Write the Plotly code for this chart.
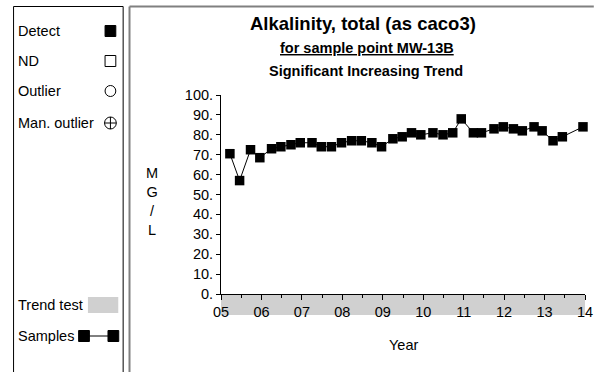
import plotly.graph_objects as go

# Sample dates (decimal years) and alkalinity results in MG/L
sample_year = [2005.22, 2005.46, 2005.73, 2005.96, 2006.25, 2006.48, 2006.73, 2006.96,
               2007.25, 2007.48, 2007.73, 2007.98, 2008.23, 2008.47, 2008.73, 2008.97,
               2009.25, 2009.48, 2009.71, 2009.94, 2010.24, 2010.49, 2010.73, 2010.94,
               2011.24, 2011.44, 2011.75, 2011.98, 2012.23, 2012.45, 2012.74, 2012.94,
               2013.21, 2013.44, 2013.95]
alkalinity = [70.5, 57, 72.5, 68.5, 73, 74, 75, 76,
              76, 74, 74, 76, 77, 77, 76, 74,
              78, 79, 81, 80, 81, 80, 81, 88,
              81, 81, 83, 84, 83, 82, 84, 82,
              77, 79, 84]

year_ticks = list(range(2005, 2015))
year_labels = ["05", "06", "07", "08", "09", "10", "11", "12", "13", "14"]
y_ticks = list(range(0, 101, 10))
y_labels = [f"{v}." for v in y_ticks]

trend_window = [2005, 2014]

W, H = 602, 372
ML, MR, MT, MB = 221, 9, 95, 78
PW, PH = W - ML - MR, H - MT - MB
FONT = "Arial, Liberation Sans, sans-serif"
BODY = 14.5


def px(x):
    return (x - ML) / PW


def py(y):
    return (H - MB - y) / PH


fig = go.Figure()

fig.add_trace(go.Scatter(
    x=sample_year, y=alkalinity, mode="lines+markers",
    line=dict(color="black", width=1),
    marker=dict(symbol="square", size=9.5, color="black"),
    showlegend=False, cliponaxis=False,
))

shapes = []
# trend test band under the time axis
shapes.append(dict(type="rect", xref="x", yref="paper",
                   x0=trend_window[0], x1=trend_window[1], y0=py(315), y1=0,
                   fillcolor="#d0d0d0", line=dict(width=0), layer="below"))

# left key panel frame
for (x0, y0, x1, y1) in [(9, 6.5, 121, 6.5), (9, 6.5, 9, 372), (121, 6.5, 121, 372)]:
    shapes.append(dict(type="line", xref="paper", yref="paper",
                       x0=px(x0), y0=py(y0), x1=px(x1), y1=py(y1),
                       line=dict(color="black", width=1)))
# chart panel frame
for (x0, y0, x1, y1) in [(127.5, 6.5, 602, 6.5), (127.5, 6.5, 127.5, 372)]:
    shapes.append(dict(type="line", xref="paper", yref="paper",
                       x0=px(x0), y0=py(y0), x1=px(x1), y1=py(y1),
                       line=dict(color="#808080", width=2)))


def box(cx, cy, half, fill, kind="rect"):
    return dict(type=kind, xref="paper", yref="paper",
                x0=px(cx - half), x1=px(cx + half), y0=py(cy + half), y1=py(cy - half),
                fillcolor=fill, line=dict(color="black", width=1))


# key symbols
shapes.append(box(108, 31, 5.5, "black"))
shapes.append(box(108, 61, 5.5, "white"))
shapes.append(box(108, 91, 5.5, "white", "circle"))
shapes.append(box(108, 123, 6, "white", "circle"))
shapes.append(dict(type="line", xref="paper", yref="paper", x0=px(102), x1=px(114),
                   y0=py(123), y1=py(123), line=dict(color="black", width=1)))
shapes.append(dict(type="line", xref="paper", yref="paper", x0=px(108), x1=px(108),
                   y0=py(117), y1=py(129), line=dict(color="black", width=1)))
shapes.append(dict(type="rect", xref="paper", yref="paper",
                   x0=px(85), x1=px(116), y0=py(313), y1=py(297),
                   fillcolor="#d0d0d0", line=dict(width=0)))
shapes.append(dict(type="line", xref="paper", yref="paper", x0=px(81), x1=px(111),
                   y0=py(336), y1=py(336), line=dict(color="black", width=1)))
shapes.append(box(81, 336, 5.5, "black"))
shapes.append(box(111, 336, 5.5, "black"))

annotations = []


def text(x, y, s, size=BODY, anchor="left"):
    annotations.append(dict(xref="paper", yref="paper", x=px(x), y=py(y), text=s,
                            showarrow=False, xanchor=anchor, yanchor="middle",
                            font=dict(family=FONT, size=size, color="black")))


text(12, 31, "Detect")
text(12, 61, "ND")
text(12, 91, "Outlier")
text(12, 123, "Man. outlier")
text(12, 305, "Trend test")
text(12, 336, "Samples")

text(366, 24, "<b>Alkalinity, total (as caco3)</b>", size=18.5, anchor="center")
text(370, 48, "<b><u>for sample point MW-13B</u></b>", size=14.5, anchor="center")
text(369, 71, "<b>Significant Increasing Trend</b>", size=14.5, anchor="center")
text(407, 345, "Year", anchor="center")
text(150, 201, "M<br>G<br>/<br>L", anchor="center")

fig.update_layout(
    width=W, height=H,
    margin=dict(l=ML, r=MR, t=MT, b=MB),
    paper_bgcolor="white", plot_bgcolor="white",
    font=dict(family=FONT, size=BODY, color="black"),
    shapes=shapes, annotations=annotations,
    xaxis=dict(range=[2005, 2014], tickvals=year_ticks, ticktext=year_labels,
               showgrid=False, zeroline=False, showline=True, linecolor="black", linewidth=1,
               ticks="outside", ticklen=5, tickcolor="black",
               minor=dict(dtick=0.5, tick0=2005, ticks="outside", ticklen=3,
                          tickcolor="black", showgrid=False),
               tickfont=dict(size=BODY)),
    yaxis=dict(range=[0, 100], tickvals=y_ticks, ticktext=y_labels,
               showgrid=False, zeroline=False, showline=True, linecolor="black", linewidth=1,
               ticks="outside", ticklen=4, tickcolor="black", tickfont=dict(size=BODY)),
)

fig.write_html("out.html")
